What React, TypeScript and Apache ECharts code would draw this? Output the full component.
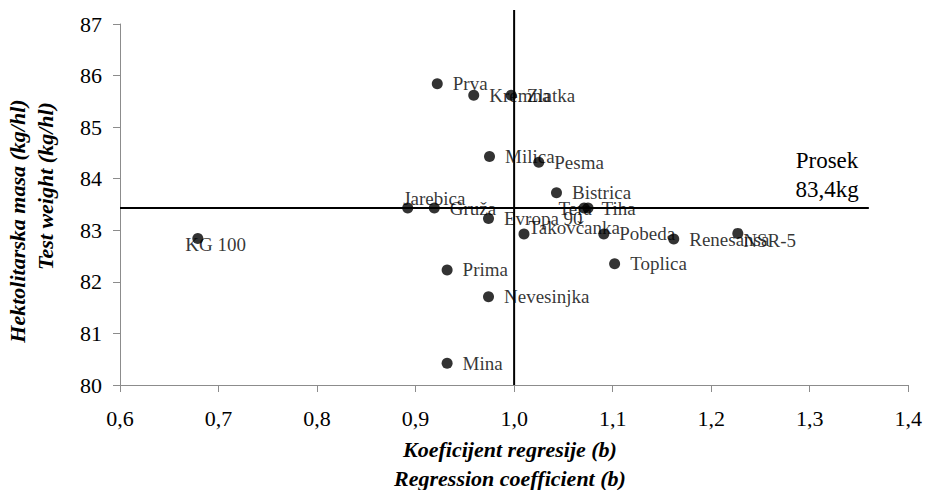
import React, { useEffect, useRef } from "react";
import * as echarts from "echarts";

// Cultivar names, regression coefficient (b) and test weight (kg/hl)
const cultivars = [
  "Prva", "Kremna", "Zlatka", "Milica", "Pesma", "Bistrica", "Jarebica", "Gruža",
  "Evropa 90", "Tera", "Tiha", "Takovčanka", "Pobeda", "Renesansa", "NSR-5",
  "Toplica", "KG 100", "Prima", "Nevesinjka", "Mina",
];
const regressionB = [
  0.922, 0.959, 0.997, 0.975, 1.025, 1.043, 0.892, 0.919,
  0.974, 1.071, 1.075, 1.010, 1.091, 1.162, 1.227,
  1.102, 0.679, 0.932, 0.974, 0.932,
];
const testWeight = [
  85.84, 85.62, 85.62, 84.43, 84.32, 83.73, 83.43, 83.43,
  83.23, 83.43, 83.43, 82.93, 82.93, 82.83, 82.94,
  82.35, 82.84, 82.23, 81.71, 80.42,
];
const meanTestWeight = 83.43;
const meanLineEndB = 1.36;
const referenceB = 1.0;
const meanLabel = ["Prosek", "83,4kg"];
const xTicks = { min: 0.6, max: 1.4, step: 0.1 };
const yTicks = { min: 80, max: 87, step: 1 };

// label placement tweaks (styling only)
const labelOffsets: Record<string, [number, number]> = {
  "Takovčanka": [-11, -6],
  "NSR-5": [-10, 7],
  "KG 100": [-28, 6],
  "Tera": [-41, 0],
  "Tiha": [-2, 0],
  "Jarebica": [-20, -10],
};

const SERIF = "Liberation Serif";

export default function App() {
  const ref = useRef<HTMLDivElement>(null);

  useEffect(() => {
    if (!ref.current) return;
    const chart = echarts.init(ref.current, undefined, { renderer: "svg" });

    const data = cultivars.map((name, i) => {
      const item: any = { name, value: [regressionB[i], testWeight[i]] };
      if (labelOffsets[name]) item.label = { offset: labelOffsets[name] };
      return item;
    });

    const axisGrey = "#8c8c8c";
    const titleStyle = {
      fontFamily: SERIF,
      fontSize: 22,
      fontWeight: "bold",
      fontStyle: "italic",
      fill: "#000",
      textAlign: "center",
      textVerticalAlign: "middle",
    };

    chart.setOption({
      animation: false,
      grid: { left: 120, right: 13, top: 24, bottom: 105, containLabel: false },
      xAxis: {
        type: "value",
        min: xTicks.min,
        max: xTicks.max,
        interval: xTicks.step,
        splitLine: { show: false },
        axisLine: { show: true, lineStyle: { color: axisGrey, width: 1 } },
        axisTick: { show: true, inside: false, length: 7, lineStyle: { color: axisGrey } },
        axisLabel: {
          margin: 22,
          color: "#000",
          fontFamily: SERIF,
          fontSize: 22,
          formatter: (v: number) => v.toFixed(1).replace(".", ","),
        },
      },
      yAxis: {
        type: "value",
        min: yTicks.min,
        max: yTicks.max,
        interval: yTicks.step,
        splitLine: { show: false },
        axisLine: { show: true, lineStyle: { color: axisGrey, width: 1 } },
        axisTick: { show: true, inside: false, length: 7, lineStyle: { color: axisGrey } },
        axisLabel: {
          margin: 18,
          color: "#000",
          fontFamily: SERIF,
          fontSize: 22,
          formatter: (v: number) => String(v),
        },
      },
      series: [
        {
          type: "scatter",
          symbol: "circle",
          symbolSize: 11,
          clip: false,
          itemStyle: { color: "#000" },
          label: {
            show: true,
            position: "right",
            distance: 10,
            formatter: "{b}",
            color: "#000",
            fontFamily: SERIF,
            fontSize: 19,
          },
          data,
          markLine: {
            silent: true,
            symbol: ["none", "none"],
            label: { show: false },
            lineStyle: { color: "#000", width: 2, type: "solid" },
            data: [
              [{ coord: [xTicks.min, meanTestWeight] }, { coord: [meanLineEndB, meanTestWeight] }],
            ],
          },
        },
      ],
      graphic: [
        { id: "mean1", type: "text", x: 827, y: 160, style: { text: meanLabel[0], fontFamily: SERIF, fontSize: 23, fill: "#000", textAlign: "center", textVerticalAlign: "middle" } },
        { id: "mean2", type: "text", x: 827, y: 189, style: { text: meanLabel[1], fontFamily: SERIF, fontSize: 23, fill: "#000", textAlign: "center", textVerticalAlign: "middle" } },
        { id: "xt1", type: "text", x: 510, y: 449, style: { ...titleStyle, text: "Koeficijent regresije (b)" } },
        { id: "xt2", type: "text", x: 510, y: 478, style: { ...titleStyle, text: "Regression coefficient (b)" } },
        { id: "yt1", type: "text", x: 17, y: 221, rotation: Math.PI / 2, style: { ...titleStyle, text: "Hektolitarska masa (kg/hl)" } },
        { id: "yt2", type: "text", x: 45, y: 186, rotation: Math.PI / 2, style: { ...titleStyle, text: "Test weight (kg/hl)" } },
      ],
    });

    // vertical reference line at b = 1.0, extending slightly above the plot top
    const bottom = chart.convertToPixel({ gridIndex: 0 }, [referenceB, yTicks.min]) as number[];
    const top = chart.convertToPixel({ gridIndex: 0 }, [referenceB, yTicks.max]) as number[];
    if (bottom && top) {
      chart.setOption({
        graphic: [
          {
            id: "vline",
            type: "line",
            shape: { x1: bottom[0], y1: bottom[1], x2: top[0], y2: top[1] - 14 },
            style: { stroke: "#000", lineWidth: 2 },
            z: 10,
          },
        ],
      });
    }

    return () => chart.dispose();
  }, []);

  return (
    <div
      ref={ref}
      style={{ position: "fixed", left: 0, top: 0, width: 925, height: 490, background: "#fff" }}
    />
  );
}
